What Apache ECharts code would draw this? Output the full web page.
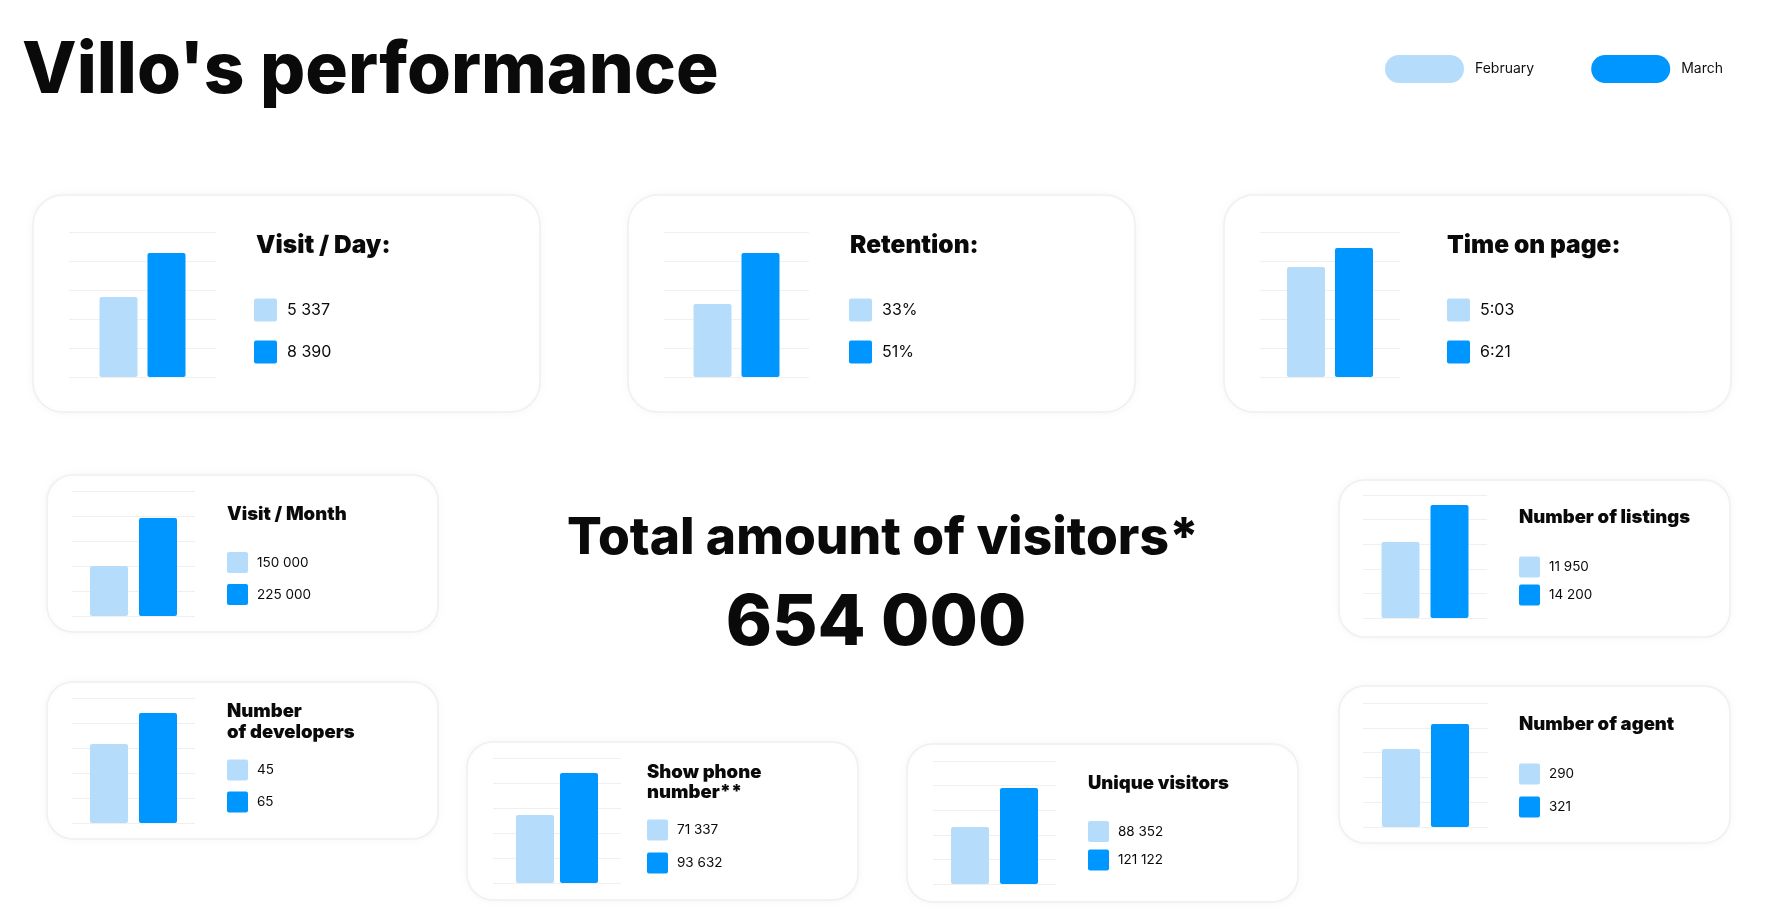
<!DOCTYPE html>
<html>
<head>
<meta charset="utf-8">
<title>Villo's performance</title>
<script src="https://cdn.jsdelivr.net/npm/echarts@6/dist/echarts.min.js"></script>
<style>
  html, body { margin: 0; padding: 0; background: #fff; }
  #main { width: 1770px; height: 922px; }
</style>
</head>
<body>
<div id="main"></div>
<script>
// data
var months = ['February', 'March'];
var metrics = ['Visit / Day:', 'Retention:', 'Time on page:', 'Visit / Month', 'Number of listings',
  'Number\nof developers', 'Show phone\nnumber**', 'Unique visitors', 'Number of agent'];
var febText = ['5 337', '33%', '5:03', '150 000', '11 950', '45', '71 337', '88 352', '290'];
var marText = ['8 390', '51%', '6:21', '225 000', '14 200', '65', '93 632', '121 122', '321'];
// bar heights in gridline steps, as drawn (the bars of the original are not to scale)
var febBars = [2.76, 2.52, 3.79, 2.0, 3.09, 3.16, 2.72, 2.32, 3.15];
var marBars = [4.28, 4.28, 4.45, 3.92, 4.59, 4.4, 4.4, 3.9, 4.15];
var totalTitle = 'Total amount of visitors*';
var totalValue = '654 000';

var colors = ['#b5ddfb', '#0096ff'];
var font = 'Inter, Lato, "Noto Sans", sans-serif';

// card layout: box, chart grid, title position, swatches
var layout = [
  {box: [33, 195, 507, 217], r: 30, grid: [69, 232, 147, 145], gap: 10, tx: 256, ty: 246, tf: 24.5, sx: 254, sy: [310, 352], ss: 23, vf: 16},
  {box: [628, 195, 507, 217], r: 30, grid: [664, 232, 145, 145], gap: 10, tx: 850, ty: 246, tf: 24.5, sx: 849, sy: [310, 352], ss: 23, vf: 16},
  {box: [1224, 195, 507, 217], r: 30, grid: [1260, 232, 140, 145], gap: 10, tx: 1447, ty: 246, tf: 24.5, sx: 1447, sy: [310, 352], ss: 23, vf: 16},
  {box: [47, 475, 391, 157], r: 26, grid: [72, 491, 123, 125], gap: 11, tx: 227, ty: 514.5, tf: 18.5, sx: 227, sy: [562.5, 594.5], ss: 21, vf: 13.5},
  {box: [1339, 480, 391, 157], r: 26, grid: [1363, 495, 124, 123], gap: 11, tx: 1519, ty: 517.5, tf: 18.5, sx: 1519, sy: [567, 595], ss: 21, vf: 13.5},
  {box: [47, 682, 391, 157], r: 26, grid: [72, 698, 123, 125], gap: 11, tx: 227, ty: 722, tf: 18.5, lh: 21, sx: 227, sy: [770, 802], ss: 21, vf: 13.5},
  {box: [467, 742, 391, 158], r: 26, grid: [493, 758, 128, 125], gap: 6, tx: 647, ty: 782, tf: 18.5, lh: 20, sx: 647, sy: [830, 863], ss: 21, vf: 13.5},
  {box: [907, 744, 391, 158], r: 26, grid: [933, 761, 123, 123], gap: 11, tx: 1088, ty: 783, tf: 18.5, sx: 1088, sy: [831.5, 860], ss: 21, vf: 13.5},
  {box: [1339, 686, 391, 157], r: 26, grid: [1363, 703, 125, 124], gap: 11, tx: 1519, ty: 724.5, tf: 18.5, sx: 1519, sy: [774, 807], ss: 21, vf: 13.5}
];

function text(x, y, str, size, weight, align, lh) {
  return {
    type: 'text', x: x, y: y, z: 10,
    style: {
      text: str, fill: '#0a0a0a', fontFamily: font, fontSize: size, fontWeight: weight,
      lineHeight: lh || size, align: align || 'left', verticalAlign: 'middle',
      textAlign: align || 'left', textVerticalAlign: 'middle'
    }
  };
}

var grids = [], xAxes = [], yAxes = [], series = [], graphics = [];

graphics.push(text(22, 72, "Villo's performance", 71, 800));
graphics.push(text(883, 539, totalTitle, 51.5, 800, 'center'));
graphics.push(text(876, 624, totalValue, 70, 800, 'center'));

layout.forEach(function (c, i) {
  graphics.push({
    type: 'rect', z: -1,
    shape: {x: c.box[0], y: c.box[1], width: c.box[2], height: c.box[3], r: c.r},
    style: {fill: '#fff', stroke: '#f0f0f0', lineWidth: 1.5, shadowBlur: 12, shadowColor: 'rgba(0,0,0,0.04)'}
  });
  graphics.push(text(c.tx, c.ty, metrics[i], c.tf, 900, 'left', c.lh));
  [febText[i], marText[i]].forEach(function (v, k) {
    graphics.push({
      type: 'rect', z: 10,
      shape: {x: c.sx, y: c.sy[k] - c.ss / 2, width: c.ss, height: c.ss, r: 2},
      style: {fill: colors[k]}
    });
    graphics.push(text(c.sx + c.ss + (c.ss > 21 ? 10 : 9), c.sy[k], v, c.vf, 400));
  });

  grids.push({left: c.grid[0], top: c.grid[1], width: c.grid[2], height: c.grid[3]});
  xAxes.push({gridIndex: i, type: 'category', data: [metrics[i]], show: false});
  yAxes.push({
    gridIndex: i, type: 'value', min: 0, max: 5, interval: 1,
    axisLabel: {show: false}, axisLine: {show: false}, axisTick: {show: false},
    splitLine: {lineStyle: {color: '#f0f0f0', width: 1}}
  });
  [febBars, marBars].forEach(function (arr, k) {
    series.push({
      name: months[k], type: 'bar', xAxisIndex: i, yAxisIndex: i,
      data: [arr[i]], barWidth: 38, barGap: (c.gap / 38 * 100) + '%',
      itemStyle: {color: colors[k], borderRadius: 2},
      silent: true
    });
  });
});

var chart = echarts.init(document.getElementById('main'));
chart.setOption({
  animation: false,
  backgroundColor: '#fff',
  legend: {
    data: months, left: 1380, top: 50, itemWidth: 79, itemHeight: 28, itemGap: 57,
    icon: 'path://M14,0 H65 A14,14 0 0 1 65,28 H14 A14,14 0 0 1 14,0 Z',
    selectedMode: false,
    textStyle: {fontFamily: font, fontSize: 14, color: '#111', padding: [0, 0, 0, 6]}
  },
  grid: grids,
  xAxis: xAxes,
  yAxis: yAxes,
  series: series,
  graphic: graphics
});
</script>
</body>
</html>
